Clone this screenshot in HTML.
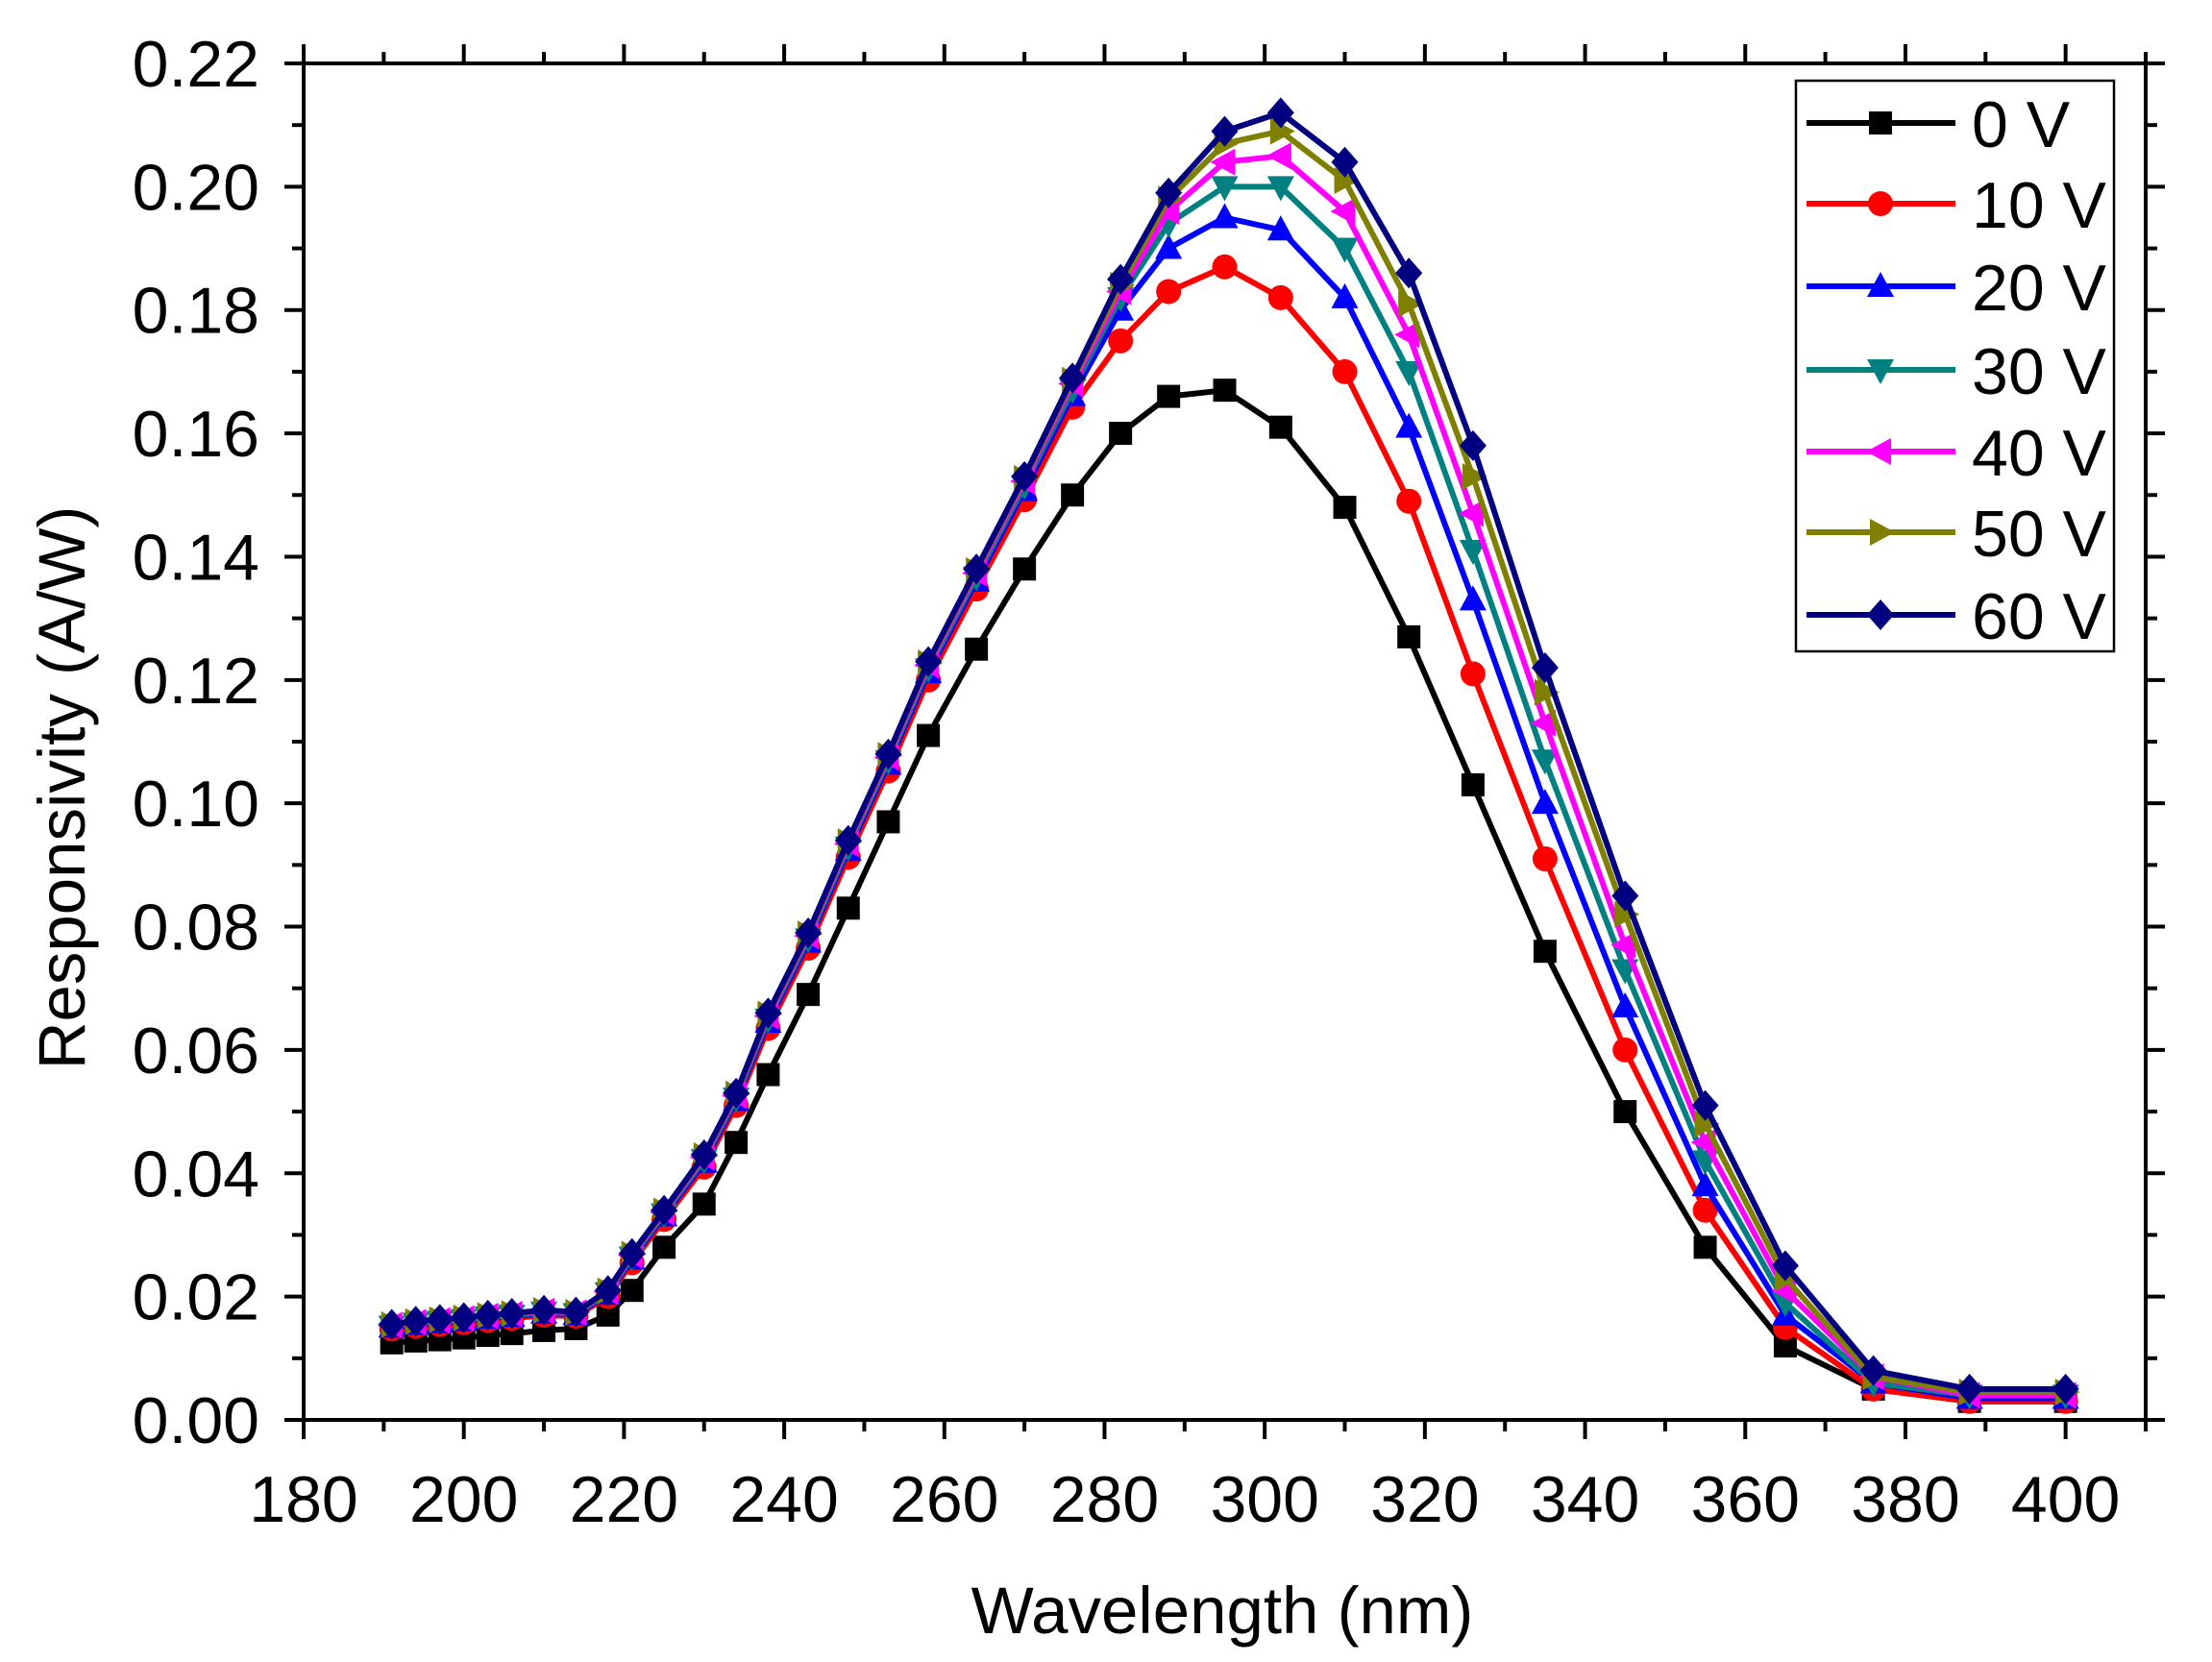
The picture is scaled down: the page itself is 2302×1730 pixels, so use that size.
<!DOCTYPE html>
<html><head><meta charset="utf-8">
<style>
html,body{margin:0;padding:0;background:#fff;}
svg{display:block;font-family:"Liberation Sans",Arial,sans-serif;}
</style></head>
<body>
<svg id="c" width="2302" height="1730" viewBox="0 0 2302 1730" xmlns="http://www.w3.org/2000/svg"></svg>
<script>
const S=document.getElementById('c');
const X0=316,X1=2233,A=180,B=410,Y0=1478,Y1=66;
const px=v=>X0+(v-A)*(X1-X0)/(B-A);
const py=v=>Y0-v*(Y0-Y1)/0.22;
let h='';
const xs=[191,194,197,200,203,206,210,214,218,221,225,230,234,238,243,248,253,258,264,270,276,282,288,295,302,310,318,326,335,345,355,365,376,388,400];
const v0=[0.0125,0.0128,0.013,0.0133,0.0137,0.014,0.0145,0.0148,0.017,0.021,0.028,0.035,0.045,0.056,0.069,0.083,0.097,0.111,0.125,0.138,0.150,0.160,0.166,0.167,0.161,0.148,0.127,0.103,0.076,0.050,0.028,0.012,0.005,0.003,0.003];
const v6=[0.0155,0.016,0.0163,0.0166,0.017,0.0173,0.0178,0.0175,0.021,0.027,0.034,0.043,0.053,0.066,0.079,0.094,0.108,0.123,0.138,0.153,0.169,0.185,0.199,0.209,0.212,0.204,0.186,0.158,0.122,0.085,0.051,0.025,0.008,0.005,0.005];
const tails={
1:[0.175,0.183,0.187,0.182,0.170,0.149,0.121,0.091,0.060,0.034,0.015,0.005,0.003,0.003],
2:[0.180,0.190,0.195,0.193,0.182,0.161,0.133,0.100,0.067,0.038,0.017,0.006,0.0035,0.0035],
3:[0.182,0.194,0.200,0.200,0.190,0.170,0.141,0.107,0.073,0.042,0.019,0.006,0.004,0.004],
4:[0.183,0.196,0.204,0.205,0.196,0.176,0.147,0.113,0.077,0.045,0.021,0.007,0.004,0.004],
5:[0.184,0.198,0.207,0.209,0.201,0.181,0.153,0.118,0.082,0.048,0.023,0.007,0.0045,0.0045]};
const fr={1:0.75,2:0.85,3:0.9,4:0.95,5:0.98};
const series=[v0];
for(let k=1;k<=5;k++){const a=[];for(let i=0;i<xs.length;i++){if(i>=21)a.push(tails[k][i-21]);else a.push(v0[i]+fr[k]*(v6[i]-v0[i]));}series.push(a);}
series.push(v6);
const cols=['#000000','#ff0000','#0000ff','#008080','#ff00ff','#808000','#000080'];
function mk(t,x,y,c){const s=12;
 if(t==0)return `<rect x="${x-s}" y="${y-s}" width="${2*s}" height="${2*s}" fill="${c}"/>`;
 if(t==1)return `<circle cx="${x}" cy="${y}" r="${s+1}" fill="${c}"/>`;
 if(t==2)return `<polygon points="${x},${y-s-3} ${x-s-2},${y+s-1} ${x+s+2},${y+s-1}" fill="${c}"/>`;
 if(t==3)return `<polygon points="${x},${y+s+3} ${x-s-2},${y-s+1} ${x+s+2},${y-s+1}" fill="${c}"/>`;
 if(t==4)return `<polygon points="${x-s-3},${y} ${x+s-1},${y-s-2} ${x+s-1},${y+s+2}" fill="${c}"/>`;
 if(t==5)return `<polygon points="${x+s+3},${y} ${x-s+1},${y-s-2} ${x-s+1},${y+s+2}" fill="${c}"/>`;
 return `<polygon points="${x},${y-s-4} ${x+s+2},${y} ${x},${y+s+4} ${x-s-2},${y}" fill="${c}"/>`;}
for(let k=0;k<7;k++){
 const pts=xs.map((x,i)=>px(x).toFixed(1)+','+py(series[k][i]).toFixed(1)).join(' ');
 h+=`<polyline points="${pts}" fill="none" stroke="${cols[k]}" stroke-width="6" stroke-linejoin="round"/>`;
 xs.forEach((x,i)=>{h+=mk(k,px(x),py(series[k][i]),cols[k]);});
}
h+=`<rect x="${X0}" y="${Y1}" width="${X1-X0}" height="${Y0-Y1}" fill="none" stroke="#000" stroke-width="4"/>`;
for(let v=180;v<=410;v+=10){const x=px(v),L=(v%20==0)?20:12;
 h+=`<line x1="${x}" y1="${Y0}" x2="${x}" y2="${Y0+L}" stroke="#000" stroke-width="4"/>`;
 h+=`<line x1="${x}" y1="${Y1}" x2="${x}" y2="${Y1-L}" stroke="#000" stroke-width="4"/>`;
 if(v%20==0&&v<=400)h+=`<text x="${x}" y="1584" font-size="68" text-anchor="middle">${v}</text>`;}
for(let i=0;i<=22;i++){const v=i*0.01,y=py(v),L=(i%2==0)?20:12;
 h+=`<line x1="${X0}" y1="${y}" x2="${X0-L}" y2="${y}" stroke="#000" stroke-width="4"/>`;
 h+=`<line x1="${X1}" y1="${y}" x2="${X1+L}" y2="${y}" stroke="#000" stroke-width="4"/>`;
 if(i%2==0)h+=`<text x="270" y="${y+24}" font-size="68" text-anchor="end">${v.toFixed(2)}</text>`;}
h+=`<text x="1272" y="1700" font-size="69" text-anchor="middle">Wavelength (nm)</text>`;
h+=`<text transform="translate(88,820) rotate(-90)" font-size="69" text-anchor="middle">Responsivity (A/W)</text>`;
h+=`<rect x="1869" y="84" width="331" height="594" fill="#fff" stroke="#000" stroke-width="2.5"/>`;
const labs=['0 V','10 V','20 V','30 V','40 V','50 V','60 V'];
const ly=[128,212,298,385,470,554,640];
for(let k=0;k<7;k++){h+=`<line x1="1880" y1="${ly[k]}" x2="2035" y2="${ly[k]}" stroke="${cols[k]}" stroke-width="6"/>`+mk(k,1957,ly[k],cols[k])+`<text x="2052" y="${ly[k]+25}" font-size="68">${labs[k]}</text>`;}
S.innerHTML=h;
</script>
</body></html>
